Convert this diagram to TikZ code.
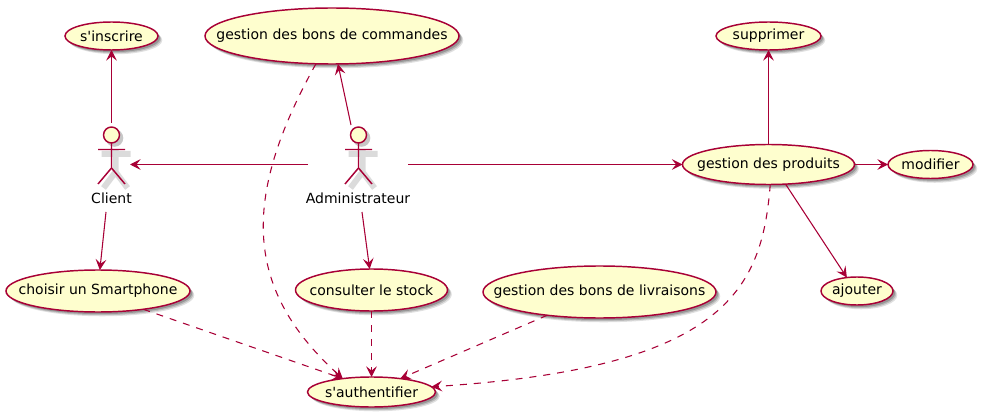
\documentclass[tikz,border=0pt]{standalone}
\usepackage{fontspec}
\setmainfont{DejaVu Sans}[Ligatures=TeXOff]
\usetikzlibrary{arrows.meta,shapes.geometric,shadows}
\definecolor{umlline}{HTML}{A80036}
\definecolor{umlfill}{HTML}{FEFECE}
\tikzset{
  every node/.style={font=\fontsize{10.5pt}{12pt}\selectfont,text=black,inner sep=0pt,outer sep=0pt},
  softshadow/.style={general shadow={shadow xshift=3.2pt,shadow yshift=-3.2pt,fill=black,opacity=.12},
                     general shadow={shadow xshift=2.4pt,shadow yshift=-2.4pt,fill=black,opacity=.16},
                     general shadow={shadow xshift=1.6pt,shadow yshift=-1.6pt,fill=black,opacity=.2}},
  usecase/.style={ellipse,draw=umlline,fill=umlfill,line width=1.1pt,softshadow},
  tip/.style={-{Stealth[length=8pt,width=8pt,inset=3.2pt]}},
  link/.style={draw=umlline,line width=.8pt,tip},
  deplink/.style={link,dash pattern=on 5.25pt off 5.25pt},
  actorlabel/.style={anchor=center},
}
\newcommand{\umlactor}[2]{% x, name
  \begin{scope}[shift={(#1,0)}]
    \draw[line width=4.5pt,draw=black!14,line cap=butt] (-10,154)--(19,154) (4,150)--(4,172) (-8,188)--(4,172)--(16,188);
    \fill[black!22] (3,138) circle (6.6pt);
    \node[circle,draw=umlline,fill=umlfill,line width=1.1pt,minimum size=12pt] (#2) at (0,135) {};
    \draw[umlline,line width=1.1pt] (0,143)--(0,168) (-13.5,149.5)--(13.5,149.5) (-13.5,184)--(0,168)--(13.5,184);
  \end{scope}
}
\newcommand{\uc}[1]{\makebox[0pt][c]{#1}}
\begin{document}
\begin{tikzpicture}[x=.75pt,y=-.75pt]
\useasboundingbox (0,0) rectangle (982,417);
% use cases
\node[usecase,minimum width=69.75pt,minimum height=21pt] (inscrire) at (111.5,36) {\uc{s'inscrire}};
\node[usecase,minimum width=190.5pt,minimum height=42pt] (commandes) at (332,36) {\uc{gestion des bons de commandes}};
\node[usecase,minimum width=78.75pt,minimum height=21pt] (supprimer) at (768.5,36) {\uc{supprimer}};
\node[usecase,minimum width=129pt,minimum height=30pt] (produits) at (768.5,164.5) {\uc{gestion des produits}};
\node[usecase,minimum width=63.75pt,minimum height=21pt] (modifier) at (930.5,164.5) {\uc{modifier}};
\node[usecase,minimum width=54pt,minimum height=21pt] (ajouter) at (857,291) {\uc{ajouter}};
\node[usecase,minimum width=138pt,minimum height=31.5pt] (choisir) at (98,291) {\uc{choisir un Smartphone}};
\node[usecase,minimum width=114pt,minimum height=31.5pt] (stock) at (371.5,290) {\uc{consulter le stock}};
\node[usecase,minimum width=174.75pt,minimum height=39pt] (livraisons) at (599.5,292) {\uc{gestion des bons de livraisons}};
\node[usecase,minimum width=96pt,minimum height=22.5pt] (auth) at (371.5,392) {\uc{s'authentifier}};
% actors
\umlactor{111.5}{clientHead}
\umlactor{358.5}{adminHead}
\node[actorlabel] (clientLabel) at (111.5,198) {Client};
\node[actorlabel] (adminLabel) at (358,198) {Administrateur};
\coordinate (clientTop) at (111.5,123);
\coordinate (clientEast) at (130,164.5);
\coordinate (clientBottom) at (106,212);
\coordinate (adminWest) at (308,164.5);
\coordinate (adminEast) at (408,164.5);
\coordinate (adminTop) at (351,125);
\coordinate (adminBottom) at (362,212);
% connectors
\draw[link] (clientTop) -- (inscrire.south);
\draw[link] (adminWest) -- (clientEast);
\draw[link] (adminTop) -- (commandes.282);
\draw[link] (adminEast) -- (produits.west);
\draw[link] (adminBottom) -- (stock.95);
\draw[link] (clientBottom) -- (choisir.85);
\draw[link] (produits.north) -- (supprimer.south);
\draw[link] (produits.east) -- (modifier.west);
\draw[link] (produits.311) -- (ajouter.127);
\draw[deplink] (commandes.240) .. controls (240,200) and (245,290) .. (auth.155);
\draw[deplink] (choisir.338) -- (auth.155);
\draw[deplink] (stock.south) -- (auth.north);
\draw[deplink] (livraisons.204) -- (auth.25);
\draw[deplink] (produits.275) .. controls (762,290) and (725,368) .. (auth.5);
\end{tikzpicture}
\end{document}
